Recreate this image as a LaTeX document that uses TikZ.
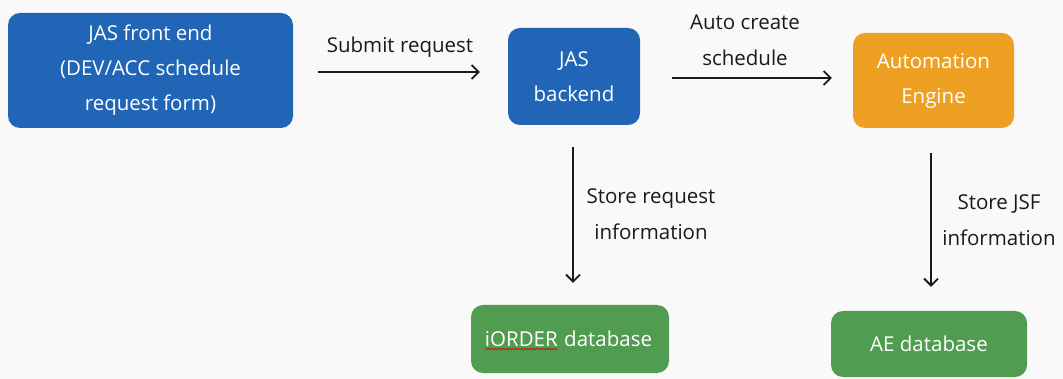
\documentclass[tikz,border=0pt]{standalone}
\usepackage{fontspec}
\setmainfont{Open Sans}
\usetikzlibrary{arrows.meta,calc,decorations.pathmorphing}
\definecolor{boxblue}{HTML}{2166B6}
\definecolor{boxorange}{HTML}{EEA022}
\definecolor{boxgreen}{HTML}{509C51}
\definecolor{ink}{HTML}{1A1A1A}
\definecolor{paper}{HTML}{F9F9F9}
\tikzset{
  proc/.style={rounded corners=12pt, inner sep=0pt, align=center, text=white,
    font=\fontsize{20.5}{35}\selectfont},
  bluebox/.style={proc, fill=boxblue},
  orangebox/.style={proc, fill=boxorange},
  greenbox/.style={proc, fill=boxgreen},
  boxword/.style={inner sep=0pt, text=white, font=\fontsize{20.5}{24}\selectfont},
  flow/.style={draw=ink, line width=1.8pt, -{Straight Barb[length=7pt,width=14pt,line width=1.8pt]}},
  caption/.style={text=ink, align=center, inner sep=0pt, font=\fontsize{20.5}{36}\selectfont},
  squiggle/.style={draw=red!85!black, line width=0.6pt, decorate,
    decoration={snake, amplitude=0.8pt, segment length=3pt}}
}
\begin{document}
\begin{tikzpicture}[x=1pt,y=-1pt]
  \fill[paper] (0,0) rectangle (1063,379);
  \useasboundingbox (0,0) rectangle (1063,379);

  % process boxes
  \node[bluebox, minimum width=285pt, minimum height=115pt] (fe) at (150.5,70.5)
    {JAS front end\\(DEV/ACC schedule\\request form)};
  \node[bluebox, minimum width=132pt, minimum height=97pt] (be) at (574,76.5)
    {JAS\\backend};
  \node[orangebox, minimum width=161pt, minimum height=95pt] (ae) at (933.5,80.5)
    {Automation\\Engine};

  % databases
  \node[greenbox, minimum width=198pt, minimum height=68pt] (idb) at (570,339) {};
  \node[boxword, anchor=base east] (iw) at ($(idb.center)+(-12,7)$) {iORDER};
  \node[boxword, anchor=base west] (dw) at ($(iw.base east)+(6,0)$) {database};
  \draw[squiggle] ([yshift=-3pt]iw.base west) -- ([yshift=-3pt]iw.base east);
  \node[greenbox, minimum width=196pt, minimum height=66pt] (adb) at (929,344)
    {AE database};

  % connectors
  \draw[flow] ($(fe.east)+(25,1.5)$) -- ($(be.west)+(-28,-4.5)$);
  \draw[flow] ($(be.east)+(32,1.5)$) -- ($(ae.west)+(-21,-2.5)$);
  \draw[flow] ($(be.south)+(-1,22)$) -- ($(idb.north)+(3,-22)$);
  \draw[flow] ($(ae.south)+(-2.5,25)$) -- ($(adb.north)+(2,-24)$);

  % connector labels
  \node[caption] (l1) at (400,47) {Submit request};
  \node[caption] (l2) at (745,40) {Auto create\\schedule};
  \node[caption] (l3) at (651,214) {Store request\\information};
  \node[caption] (l4) at (999,220) {Store JSF\\information};
\end{tikzpicture}
\end{document}
